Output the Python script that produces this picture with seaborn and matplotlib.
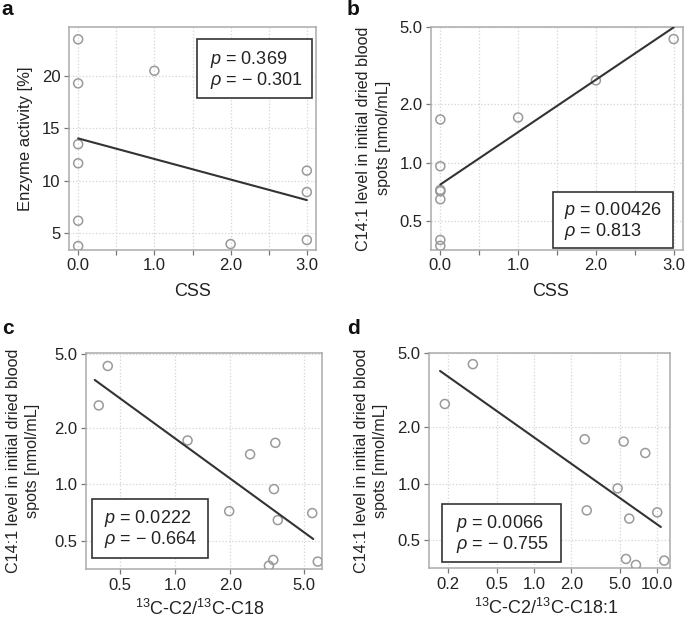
import numpy as np
import pandas as pd
import seaborn as sns
import matplotlib
matplotlib.use("Agg")
import matplotlib.pyplot as plt
from matplotlib.patches import Rectangle

# ---------------- data ----------------
# panel a: CSS vs enzyme activity
a_css = [0, 0, 0, 0, 0, 0, 1, 2, 3, 3, 3]
a_enzyme = [23.56, 19.33, 13.49, 11.66, 6.15, 3.72, 20.54, 3.91, 10.96, 8.9, 4.3]
a_line_x = [0, 3]
a_line_y = [14.05, 8.13]

# panel b: CSS vs C14:1
b_css = [0, 0, 0, 0, 0, 0, 0, 1, 2, 3]
b_c141 = [1.67, 0.957, 0.722, 0.71, 0.646, 0.398, 0.371, 1.71, 2.66, 4.35]
b_line_x = [0, 3]
b_line_y = [0.77, 5.0]

# panel c: 13C-C2/13C-C18 vs C14:1
c_ratio = [0.431, 0.385, 1.17, 2.56, 3.51, 3.45, 1.97, 3.62, 5.57, 3.42, 3.24, 5.97]
c_c141 = [4.31, 2.65, 1.72, 1.45, 1.67, 0.944, 0.719, 0.644, 0.702, 0.394, 0.367, 0.386]
c_line_x = [0.366, 5.64]
c_line_y = [3.63, 0.51]

# panel d: 13C-C2/13C-C18:1 vs C14:1
d_ratio = [0.316, 0.187, 2.57, 5.33, 7.99, 4.76, 2.67, 10.0, 5.92, 5.57, 6.71, 11.4]
d_c141 = [4.36, 2.67, 1.73, 1.68, 1.46, 0.944, 0.720, 0.703, 0.651, 0.396, 0.368, 0.388]
d_line_x = [0.171, 10.7]
d_line_y = [4.01, 0.587]

css_ticks = [0, 0.5, 1, 1.5, 2, 2.5, 3]
css_ticklabels = ["0.0", "", "1.0", "", "2.0", "", "3.0"]
enz_ticks = [5, 10, 15, 20]
enz_ticklabels = ["5", "10", "15", "20"]
c141_ticks = [0.5, 1.0, 2.0, 5.0]
c141_ticklabels = ["0.5", "1.0", "2.0", "5.0"]
c_xticks = [0.5, 1.0, 2.0, 5.0]
c_xticklabels = ["0.5", "1.0", "2.0", "5.0"]
d_xticks = [0.2, 0.5, 1.0, 2.0, 5.0, 10.0]
d_xticklabels = ["0.2", "0.5", "1.0", "2.0", "5.0", "10.0"]

stats_a = ["$p$ = 0.369", "$\\rho$ = \u2212 0.301"]
stats_b = ["$p$ = 0.00426", "$\\rho$ = 0.813"]
stats_c = ["$p$ = 0.0222", "$\\rho$ = \u2212 0.664"]
stats_d = ["$p$ = 0.0066", "$\\rho$ = \u2212 0.755"]

ylab_c141 = "C14:1 level in initial dried blood\nspots [nmol/mL]"

# ---------------- style ----------------
sns.set_theme(style="white")
plt.rcParams["font.family"] = ["Liberation Sans", "DejaVu Sans"]
plt.rcParams["mathtext.fontset"] = "custom"
plt.rcParams["mathtext.rm"] = "Liberation Sans"
plt.rcParams["mathtext.it"] = "Liberation Sans:italic"
plt.rcParams["mathtext.bf"] = "Liberation Sans:bold"

W, H = 685, 619
fig = plt.figure(figsize=(W / 100, H / 100), dpi=100)

def px_axes(left, right, top, bottom):
    return fig.add_axes([left / W, 1 - bottom / H, (right - left) / W, (bottom - top) / H])

ax_a = px_axes(69, 316, 27, 250)
ax_b = px_axes(431, 683, 26.7, 250)
ax_c = px_axes(85.7, 321.7, 353.3, 569.3)
ax_d = px_axes(429, 670, 352.7, 568.3)

PT_COL = "#9a9a9a"
LINE_COL = "#333333"
SPINE_COL = "#ababab"
TXT_COL = "#222222"
XLAB_FS = 13
YLAB_FS = 11.6
TICK_FS = 12
STAT_FS = 13

def style(ax):
    for s in ax.spines.values():
        s.set_color(SPINE_COL)
        s.set_linewidth(1.1)
    ax.tick_params(axis="both", which="major", length=3.5, width=0.9, color="#777777",
                   labelsize=TICK_FS, labelcolor=TXT_COL, pad=2.5, bottom=True, left=True)
    ax.tick_params(axis="both", which="minor", length=0)
    ax.grid(True, which="major", color="#d4d4d4", linestyle=":", linewidth=0.9)
    ax.set_axisbelow(True)

def draw(ax, x, y, lx, ly):
    sns.scatterplot(x=x, y=y, ax=ax, s=42, facecolors="none", edgecolor=PT_COL,
                    linewidth=1.1, marker="o", zorder=3)
    sns.lineplot(x=lx, y=ly, ax=ax, color=LINE_COL, linewidth=1.5, zorder=4)

def statbox(ax, x0, x1, y0, y1, tx, ty1, ty2, lines):
    ax.add_patch(Rectangle((x0, y0), x1 - x0, y1 - y0, transform=ax.transAxes,
                           facecolor="white", edgecolor="#333333", linewidth=1.2,
                           zorder=5, clip_on=False))
    ax.text(tx, ty1, lines[0], transform=ax.transAxes, ha="left", va="center",
            fontsize=STAT_FS, color=TXT_COL, zorder=6)
    ax.text(tx, ty2, lines[1], transform=ax.transAxes, ha="left", va="center",
            fontsize=STAT_FS, color=TXT_COL, zorder=6)

# panel a
draw(ax_a, a_css, a_enzyme, a_line_x, a_line_y)
ax_a.set_xlim(-0.12, 3.12)
ax_a.set_ylim(3.34, 24.74)
ax_a.set_xticks(css_ticks, css_ticklabels)
ax_a.set_yticks(enz_ticks, enz_ticklabels)
style(ax_a)
ax_a.set_xlabel("CSS", fontsize=XLAB_FS, color=TXT_COL)
ax_a.set_ylabel("Enzyme activity [%]", fontsize=YLAB_FS + 0.4, color=TXT_COL)
ax_a.xaxis.set_label_coords(0.5, -0.147)
ax_a.yaxis.set_label_coords(-0.146, 0.5)
statbox(ax_a, 0.518, 0.984, 0.683, 0.9475, 0.571, 0.855, 0.758, stats_a)

# panel b
draw(ax_b, b_css, b_c141, b_line_x, b_line_y)
ax_b.set_yscale("log")
ax_b.set_xlim(-0.12, 3.12)
ax_b.set_ylim(0.353, 5.04)
ax_b.set_xticks(css_ticks, css_ticklabels)
ax_b.set_yticks(c141_ticks, c141_ticklabels)
ax_b.minorticks_off()
style(ax_b)
ax_b.set_xlabel("CSS", fontsize=XLAB_FS, color=TXT_COL)
ax_b.set_ylabel(ylab_c141, fontsize=YLAB_FS, color=TXT_COL, linespacing=1.35)
ax_b.xaxis.set_label_coords(0.475, -0.149)
ax_b.yaxis.set_label_coords(-0.160, 0.5)
statbox(ax_b, 0.483, 0.9615, 0.0103, 0.261, 0.528, 0.176, 0.081, stats_b)

# panel c
draw(ax_c, c_ratio, c_c141, c_line_x, c_line_y)
ax_c.set_xscale("log")
ax_c.set_yscale("log")
ax_c.set_xlim(0.327, 6.27)
ax_c.set_ylim(0.351, 5.04)
ax_c.set_xticks(c_xticks, c_xticklabels)
ax_c.set_yticks(c141_ticks, c141_ticklabels)
ax_c.minorticks_off()
style(ax_c)
ax_c.set_xlabel("$^{13}$C-C2/$^{13}$C-C18", fontsize=XLAB_FS, color=TXT_COL)
ax_c.set_ylabel(ylab_c141, fontsize=YLAB_FS, color=TXT_COL, linespacing=1.35)
ax_c.xaxis.set_label_coords(0.484, -0.138)
ax_c.yaxis.set_label_coords(-0.194, 0.5)
statbox(ax_c, 0.025, 0.5195, 0.051, 0.324, 0.079, 0.234, 0.136, stats_c)

# panel d
draw(ax_d, d_ratio, d_c141, d_line_x, d_line_y)
ax_d.set_xscale("log")
ax_d.set_yscale("log")
ax_d.set_xlim(0.139, 12.7)
ax_d.set_ylim(0.353, 5.02)
ax_d.set_xticks(d_xticks, d_xticklabels)
ax_d.set_yticks(c141_ticks, c141_ticklabels)
ax_d.minorticks_off()
style(ax_d)
ax_d.set_xlabel("$^{13}$C-C2/$^{13}$C-C18:1", fontsize=XLAB_FS, color=TXT_COL)
ax_d.set_ylabel(ylab_c141, fontsize=YLAB_FS, color=TXT_COL, linespacing=1.35)
ax_d.xaxis.set_label_coords(0.488, -0.138)
ax_d.yaxis.set_label_coords(-0.170, 0.5)
statbox(ax_d, 0.054, 0.549, 0.0306, 0.297, 0.111, 0.207, 0.111, stats_d)

# panel letters
for letter, xp, yp in [("a", 1, 15), ("b", 347, 15), ("c", 2, 334), ("d", 347, 334)]:
    fig.text(xp / W, 1 - yp / H, letter, fontsize=15, fontweight="bold",
             ha="left", va="baseline", color="#111111")

fig.savefig("out.png", dpi=100)
